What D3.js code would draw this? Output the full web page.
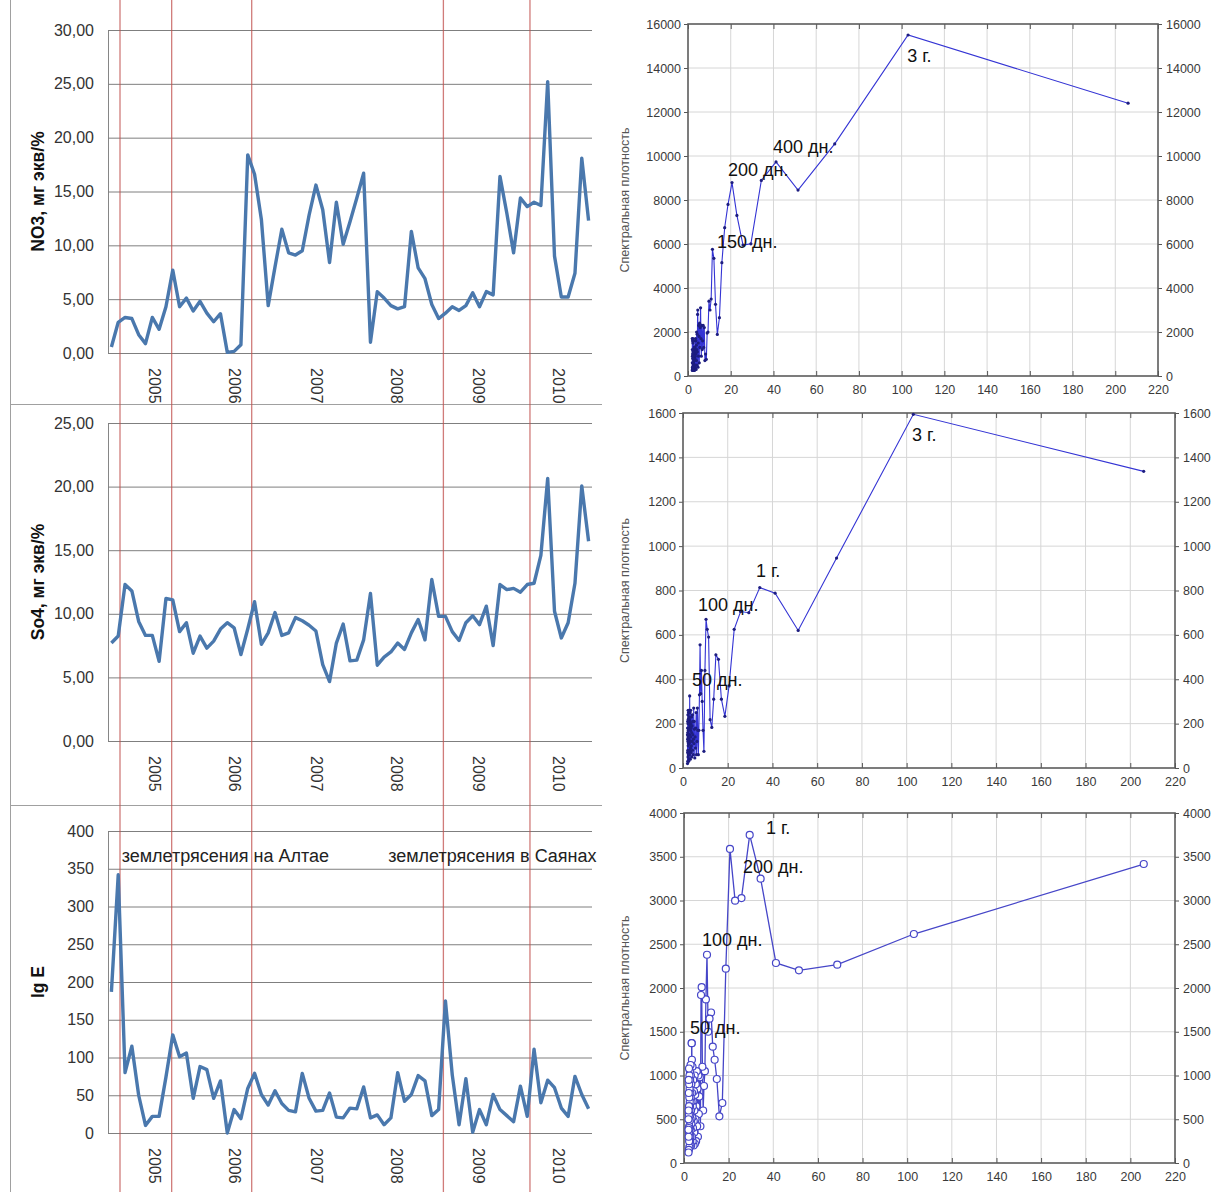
<!DOCTYPE html>
<html><head><meta charset="utf-8">
<script src="https://cdnjs.cloudflare.com/ajax/libs/d3/7.8.5/d3.min.js"></script>
<style>body{margin:0;background:#fff}svg{display:block}</style>
</head><body>
<svg id="c" width="1213" height="1192"></svg>
<script>
// ---- monthly series (71 months) ----
const no3 = [0.56, 2.85, 3.3, 3.2, 1.7, 0.87, 3.3, 2.2, 4.3, 7.7,
  4.3, 5.1, 3.9, 4.8, 3.7, 2.9, 3.65, 0.06, 0.15, 0.77,
  18.4, 16.6, 12.4, 4.4, 8.0, 11.5, 9.3, 9.1, 9.5, 12.8,
  15.6, 13.3, 8.4, 14.0, 10.1, 12.2, 14.4, 16.7, 1.0, 5.7,
  5.1, 4.4, 4.1, 4.3, 11.3, 7.9, 6.9, 4.5, 3.2, 3.7,
  4.3, 3.95, 4.4, 5.6, 4.3, 5.7, 5.4, 16.4, 13.0, 9.3,
  14.4, 13.6, 14.0, 13.7, 25.2, 9.0, 5.2, 5.2, 7.4, 18.1, 12.3];
const so4 = [7.7, 8.25, 12.3, 11.8, 9.4, 8.3, 8.3, 6.26, 11.2, 11.1,
  8.6, 9.3, 6.9, 8.25, 7.3, 7.85, 8.8, 9.3, 8.9, 6.8,
  8.8, 10.95, 7.6, 8.5, 10.1, 8.3, 8.5, 9.7, 9.45, 9.1,
  8.65, 6.0, 4.67, 7.7, 9.2, 6.3, 6.36, 7.95, 11.6, 5.96,
  6.6, 7.0, 7.7, 7.2, 8.5, 9.55, 7.95, 12.7, 9.8, 9.8,
  8.6, 7.9, 9.3, 9.85, 9.15, 10.6, 7.5, 12.3, 11.9, 12.0,
  11.7, 12.3, 12.4, 14.6, 20.65, 10.2, 8.1, 9.3, 12.4, 20.05, 15.7];
const lgE = [187, 342, 80, 115, 50, 10, 22, 22, 74, 130,
  101, 106, 46, 88, 84, 46, 69, 0, 31, 19,
  59, 79, 51, 37, 56, 39, 30, 28, 79, 46,
  29, 30, 53, 21, 20, 33, 32, 61, 20, 24,
  11, 20, 80, 42, 51, 76, 69, 23, 31, 175,
  77, 11, 72, 1, 31, 11, 51, 31, 23, 15,
  62, 22, 111, 40, 70, 60, 33, 22, 75, 51, 32];
const yearLabels = ["2005", "2006", "2007", "2008", "2009", "2010"];
const yearTickIdx = [6.1, 17.8, 29.9, 41.7, 53.6, 65.4];
const eventIdx = [1.26, 8.84, 20.58, 48.7, 61.4];
const quakeNotes = [
  {text: "землетрясения на Алтае", idx: 1.5},
  {text: "землетрясения в Саянах", idx: 40.6}
];

// ---- periodograms ----
const periods = [206, 103, 68.67, 51.5, 41.2, 34.33, 29.43, 25.75, 22.89, 20.6,
  18.73, 17.17, 15.85, 14.71, 13.73, 12.88, 12.12, 11.44, 10.84, 10.3,
  9.81, 9.36, 8.96, 8.58, 8.24, 7.92, 7.63, 7.36, 7.1, 6.87,
  6.65, 6.44, 6.24, 6.06, 5.89, 5.72, 5.57, 5.42, 5.28, 5.15,
  5.02, 4.9, 4.79, 4.68, 4.58, 4.48, 4.38, 4.29, 4.2, 4.12,
  4.04, 3.96, 3.89, 3.81, 3.75, 3.68, 3.61, 3.55, 3.49, 3.43,
  3.38, 3.32, 3.27, 3.22, 3.17, 3.12, 3.07, 3.03, 2.99, 2.94,
  2.9, 2.86, 2.82, 2.78, 2.75, 2.71, 2.68, 2.64, 2.61, 2.58,
  2.54, 2.51, 2.48, 2.45, 2.42, 2.4, 2.37, 2.34, 2.31, 2.29,
  2.26, 2.24, 2.22, 2.19, 2.17, 2.15, 2.12, 2.1, 2.08, 2.06,
  2.04, 2.02, 2];
const specNO3 = [12400, 15500, 10550, 8450, 9730, 8890, 6010, 5950, 7300, 8790,
  7800, 6740, 5150, 2650, 1890, 3260, 5350, 5760, 3500, 3000,
  3400, 2000, 1950, 760, 1000, 700, 2200, 1300, 2300, 1600,
  1200, 2300, 900, 1700, 3100, 2200, 1300, 2400, 600, 1800,
  2300, 900, 1500, 400, 3000, 2800, 1100, 1900, 500, 1200,
  2000, 700, 1400, 300, 1000, 1600, 500, 1100, 1700, 400,
  900, 1300, 300, 800, 1200, 500, 1000, 250, 700, 1300,
  400, 900, 1600, 300, 700, 1100, 250, 600, 1000, 350,
  800, 1200, 300, 500, 900, 250, 1100, 400, 1500, 600,
  300, 1700, 800, 350, 1000, 1600, 400, 900, 300, 1200,
  600, 250, 1700];
const specSO4 = [1337, 1594, 946, 620, 788, 813, 700, 705, 625, 370,
  233, 310, 490, 510, 310, 183, 218, 590, 625, 670,
  440, 75, 170, 300, 440, 335, 555, 330, 170, 60,
  170, 270, 120, 60, 250, 180, 90, 140, 45, 175,
  210, 110, 270, 130, 60, 210, 150, 80, 240, 120,
  190, 50, 160, 230, 100, 180, 70, 200, 140, 260,
  90, 170, 40, 210, 120, 250, 80, 190, 325, 150,
  60, 220, 110, 260, 40, 180, 130, 230, 70, 200,
  150, 30, 250, 110, 170, 60, 220, 100, 260, 140,
  50, 200, 120, 240, 80, 160, 30, 210, 130, 70,
  180, 20, 150];
const specLgE = [3417, 2617, 2267, 2202, 2286, 3250, 3750, 3028, 2998, 3590,
  2221, 686, 533, 960, 1180, 1330, 1720, 1650, 1500, 2380,
  1870, 1050, 880, 600, 1100, 2010, 1920, 420, 980, 760,
  560, 1000, 300, 850, 420, 1050, 650, 250, 900, 500,
  780, 220, 1000, 600, 350, 820, 480, 200, 700, 950,
  400, 650, 250, 1100, 520, 800, 300, 1180, 1370, 1370,
  700, 450, 900, 200, 600, 1000, 380, 750, 500, 1120,
  300, 800, 550, 250, 950, 650, 400, 1050, 200, 700,
  480, 850, 300, 1000, 600, 180, 750, 420, 900, 250,
  650, 1080, 350, 550, 150, 800, 400, 950, 300, 600,
  120, 500, 380];
const notesNO3 = [
  {text: "3 г.", p: 102.6, v: 14500}, {text: "400 дн.", p: 39.8, v: 10360},
  {text: "200 дн.", p: 18.7, v: 9320}, {text: "150 дн.", p: 13.6, v: 6045}];
const notesSO4 = [
  {text: "3 г.", p: 102.4, v: 1496}, {text: "1 г.", p: 32.6, v: 881},
  {text: "100 дн.", p: 6.7, v: 727}, {text: "50 дн.", p: 4.0, v: 393}];
const notesLgE = [
  {text: "1 г.", p: 36.7, v: 3817}, {text: "200 дн.", p: 26.4, v: 3371},
  {text: "100 дн.", p: 8.1, v: 2537}, {text: "50 дн.", p: 2.7, v: 1531}];
const periodTicks = [0, 20, 40, 60, 80, 100, 120, 140, 160, 180, 200, 220];

const FONT = "'Liberation Sans', Arial, sans-serif";
const svg = d3.select("#c");

// ---------- left column: monthly time series ----------
const xL = d3.scaleLinear().domain([-0.5, 70.5]).range([108, 592]);
const comma2 = d => d3.format(".2f")(d).replace(".", ",");
const leftPanels = [
  {data: no3, domain: [0, 30], range: [353, 30], step: 5, fmt: comma2, title: "NO3, мг экв/%"},
  {data: so4, domain: [0, 25], range: [741, 423], step: 5, fmt: comma2, title: "So4, мг экв/%"},
  {data: lgE, domain: [0, 400], range: [1133, 831], step: 50, fmt: d3.format("d"), title: "lg E"}
];

// panel outlines
const frame = svg.append("g").attr("stroke", "#a0a0a0").attr("stroke-width", 1);
frame.append("line").attr("x1", 10.5).attr("x2", 10.5).attr("y1", 0).attr("y2", 1192);
frame.append("line").attr("x1", 10).attr("x2", 602).attr("y1", 404.5).attr("y2", 404.5);
frame.append("line").attr("x1", 10).attr("x2", 602).attr("y1", 805.5).attr("y2", 805.5);

leftPanels.forEach(p => {
  p.y = d3.scaleLinear().domain(p.domain).range(p.range);
  const ticks = d3.range(p.domain[0], p.domain[1] + p.step / 2, p.step);
  const ax = svg.append("g").attr("transform", `translate(${xL.range()[0]},0)`)
    .call(d3.axisLeft(p.y).tickValues(ticks).tickFormat(p.fmt)
      .tickSizeInner(-(xL.range()[1] - xL.range()[0])).tickSizeOuter(0).tickPadding(14));
  ax.select(".domain").attr("stroke", "#868686");
  ax.selectAll(".tick line").attr("stroke", "#7f7f7f");
  ax.selectAll(".tick text").attr("font-family", FONT).attr("font-size", 16).attr("fill", "#333");
  // year labels, rotated
  svg.append("g").selectAll("text").data(yearLabels).join("text")
    .attr("transform", (d, i) => `translate(${xL(yearTickIdx[i])},${p.y(0) + 15}) rotate(90)`)
    .attr("dominant-baseline", "middle").attr("font-family", FONT).attr("font-size", 16)
    .attr("fill", "#333").text(d => d);
  // axis title
  const [r0, r1] = p.range;
  svg.append("text").attr("transform", `translate(44,${(r0 + r1) / 2}) rotate(-90)`)
    .attr("text-anchor", "middle").attr("font-family", FONT).attr("font-size", 17.5)
    .attr("font-weight", "bold").attr("fill", "#111").text(p.title);
});

// event markers crossing all three panels
svg.append("g").selectAll("line").data(eventIdx).join("line")
  .attr("x1", d => xL(d)).attr("x2", d => xL(d)).attr("y1", 0).attr("y2", 1192)
  .attr("stroke", "#c0504d").attr("stroke-opacity", 0.75).attr("stroke-width", 1.3);

leftPanels.forEach(p => {
  const line = d3.line().x((d, i) => xL(i)).y(d => p.y(d));
  svg.append("path").datum(p.data).attr("d", line).attr("fill", "none")
    .attr("stroke", "#4a78ad").attr("stroke-width", 3.4).attr("stroke-linejoin", "round");
});

svg.append("g").selectAll("text").data(quakeNotes).join("text")
  .attr("x", d => xL(d.idx)).attr("y", leftPanels[2].y(365)).attr("dominant-baseline", "middle")
  .attr("font-family", FONT).attr("font-size", 18).attr("fill", "#222").text(d => d.text);

// ---------- right column: periodograms ----------
const rightPanels = [
  {data: specNO3, notes: notesNO3, xr: [688, 1158], yr: [376, 24], yMax: 16000, yStep: 2000, marker: "dot"},
  {data: specSO4, notes: notesSO4, xr: [683, 1175], yr: [768, 413], yMax: 1600, yStep: 200, marker: "dot"},
  {data: specLgE, notes: notesLgE, xr: [684, 1175], yr: [1163, 813], yMax: 4000, yStep: 500, marker: "circle"}
];

rightPanels.forEach(p => {
  const x = d3.scaleLinear().domain([0, 220]).range(p.xr);
  const y = d3.scaleLinear().domain([0, p.yMax]).range(p.yr);
  const yTicks = d3.range(0, p.yMax + p.yStep / 2, p.yStep);
  const g = svg.append("g");
  // grid
  g.append("g").selectAll("line").data(periodTicks.slice(1, -1)).join("line")
    .attr("x1", d => x(d)).attr("x2", d => x(d)).attr("y1", p.yr[0]).attr("y2", p.yr[1])
    .attr("stroke", "#d6d6d6");
  g.append("g").selectAll("line").data(yTicks.slice(1, -1)).join("line")
    .attr("x1", p.xr[0]).attr("x2", p.xr[1]).attr("y1", d => y(d)).attr("y2", d => y(d))
    .attr("stroke", "#d6d6d6");
  // axes
  const style = sel => {
    sel.select(".domain").remove();
    sel.selectAll(".tick line").attr("stroke", "#555");
    sel.selectAll(".tick text").attr("font-family", FONT).attr("font-size", 12.5).attr("fill", "#3a3a3a");
  };
  const fmt = d3.format("d");
  g.append("g").attr("transform", `translate(0,${p.yr[0]})`)
    .call(d3.axisBottom(x).tickValues(periodTicks).tickFormat(fmt).tickSize(-5).tickPadding(9)).call(style);
  g.append("g").attr("transform", `translate(0,${p.yr[1]})`)
    .call(d3.axisTop(x).tickValues(periodTicks).tickSize(-5).tickFormat("")).call(style);
  g.append("g").attr("transform", `translate(${p.xr[0]},0)`)
    .call(d3.axisLeft(y).tickValues(yTicks).tickFormat(fmt).tickSize(4).tickPadding(3)).call(style);
  g.append("g").attr("transform", `translate(${p.xr[1]},0)`)
    .call(d3.axisRight(y).tickValues(yTicks).tickFormat(fmt).tickSize(4).tickPadding(4)).call(style);
  g.append("rect").attr("x", p.xr[0]).attr("y", p.yr[1])
    .attr("width", p.xr[1] - p.xr[0]).attr("height", p.yr[0] - p.yr[1])
    .attr("fill", "none").attr("stroke", "#5c5c5c").attr("stroke-width", 1.6);
  // axis title
  g.append("text").attr("transform", `translate(629,${(p.yr[0] + p.yr[1]) / 2}) rotate(-90)`)
    .attr("text-anchor", "middle").attr("font-family", FONT).attr("font-size", 12.5)
    .attr("fill", "#555").text("Спектральная плотность");
  // series
  const line = d3.line().x((d, i) => x(periods[i])).y(d => y(d));
  const isCircle = p.marker === "circle";
  g.append("path").datum(p.data).attr("d", line).attr("fill", "none")
    .attr("stroke", isCircle ? "#4646c8" : "#3434d4").attr("stroke-width", isCircle ? 1.3 : 1.1);
  g.append("g").selectAll("circle").data(p.data).join("circle")
    .attr("cx", (d, i) => x(periods[i])).attr("cy", d => y(d))
    .attr("r", isCircle ? 3.5 : 1.6)
    .attr("fill", isCircle ? "#fff" : "#1d1d80")
    .attr("stroke", isCircle ? "#4646c8" : "none").attr("stroke-width", 1.2);
  // period annotations
  g.append("g").selectAll("text").data(p.notes).join("text")
    .attr("x", d => x(d.p)).attr("y", d => y(d.v)).attr("dominant-baseline", "middle")
    .attr("font-family", FONT).attr("font-size", 18).attr("fill", "#111").text(d => d.text);
});
</script>
</body></html>
